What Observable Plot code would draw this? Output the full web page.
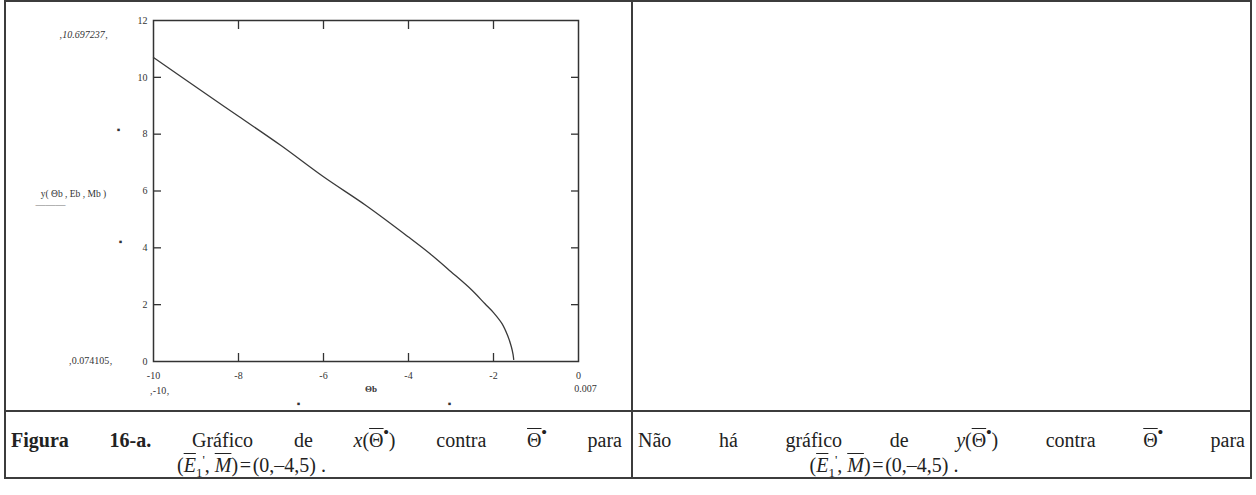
<!DOCTYPE html>
<html>
<head>
<meta charset="utf-8">
<script src="https://cdn.jsdelivr.net/npm/d3@7"></script>
<script src="https://cdn.jsdelivr.net/npm/@observablehq/plot@0.6"></script>
<style>
  html, body { margin: 0; padding: 0; background: #fff; }
  #page { position: relative; width: 1256px; height: 495px; background: #fff; overflow: hidden; }
  .rule { position: absolute; background: #3c3c3c; }
  #chart { position: absolute; left: 0; top: 0; }
  .cap {
    position: absolute; font-family: "Liberation Serif", "Times New Roman", serif;
    font-size: 20px; color: #222; line-height: 25px;
  }
  .just { white-space: nowrap; display: flex; justify-content: space-between; }
  .center { text-align: center; white-space: nowrap; }
  .ov { text-decoration: overline; text-decoration-thickness: 1px; }
  sup, sub { line-height: 0; font-size: 65%; }
  sup.dot { font-weight: bold; font-size: 75%; position: relative; top: -2px; }
</style>
</head>
<body>
<div id="page">
  <div id="chart"></div>
  <!-- table rules -->
  <div class="rule" style="left:4px; top:0; width:1248px; height:2px"></div>
  <div class="rule" style="left:4px; top:0; width:2px; height:479px"></div>
  <div class="rule" style="left:1250px; top:0; width:2px; height:479px"></div>
  <div class="rule" style="left:631px; top:0; width:2px; height:479px"></div>
  <div class="rule" style="left:4px; top:410px; width:1248px; height:2px"></div>
  <div class="rule" style="left:4px; top:477px; width:1248px; height:2px"></div>

  <!-- left caption -->
  <div class="cap" style="left:11px; top:428px; width:611px">
    <div class="just"><span><b>Figura</b></span><span><b>16-a.</b></span><span>Gráfico</span><span>de</span><span><i>x</i>(<span class="ov">Θ</span><sup class="dot">•</sup>)</span><span>contra</span><span><span class="ov">Θ</span><sup class="dot">•</sup></span><span>para</span></div>
    <div class="center" style="margin-left:-130px">(<span class="ov"><i>E</i></span><sub>1</sub><sup>'</sup>, <span class="ov"><i>M</i></span>)&#8202;=&#8202;(0,–4,5) .</div>
  </div>
  <!-- right caption -->
  <div class="cap" style="left:638px; top:428px; width:607px">
    <div class="just"><span>Não</span><span>há</span><span>gráfico</span><span>de</span><span><i>y</i>(<span class="ov">Θ</span><sup class="dot">•</sup>)</span><span>contra</span><span><span class="ov">Θ</span><sup class="dot">•</sup></span><span>para</span></div>
    <div class="center" style="margin-left:-115px">(<span class="ov"><i>E</i></span><sub>1</sub><sup>'</sup>, <span class="ov"><i>M</i></span>)&#8202;=&#8202;(0,–4,5) .</div>
  </div>
</div>
<script>
// Θb values and the resulting y(Θb, Eb, Mb) curve
const thetaB = [-10, -9, -8, -7, -6, -5, -4, -3.5, -3, -2.5, -2.2, -2, -1.8, -1.67, -1.58, -1.54, -1.525];
const yValues = [10.697237, 9.66, 8.63, 7.60, 6.50, 5.49, 4.38, 3.80, 3.16, 2.50, 2.03, 1.72, 1.33, 0.92, 0.52, 0.25, 0.074105];

// axis ticks and range labels
const xTickLabels = [-10, -8, -6, -4, -2, 0];
const xInnerTicks = [-8, -6, -4, -2];
const yTickLabels = [0, 2, 4, 6, 8, 10, 12];
const yInnerTicks = [2, 4, 6, 8, 10];
const yUpperLimit = "\u201a10.697237\u201a";
const yLowerLimit = "\u201a0.074105\u201a";
const xLowerLimit = "\u201a-10\u201a";
const xUpperLimit = "0.007";
const xLabel = "Θb";
const yLabel = "y( Θb , Eb , Mb )";

const points = thetaB.map((t, i) => ({t, v: yValues[i]}));
const fmt = d => (d < 0 ? "-" + (-d) : String(d));
const ink = "#333";

const chart = Plot.plot({
  width: 632,
  height: 410,
  marginLeft: 153,
  marginTop: 20,
  marginRight: 54,
  marginBottom: 49,
  style: {fontFamily: "Liberation Serif, serif", fontSize: "10px", color: ink, background: "transparent"},
  x: {domain: [-10, 0]},
  y: {domain: [0, 12]},
  marks: [
    Plot.frame({stroke: ink, strokeWidth: 1.5}),
    // inward tick marks on all four sides
    Plot.axisX(xInnerTicks, {anchor: "bottom", tickSize: 8, dy: -8, text: null, label: null, stroke: ink, strokeWidth: 1.3}),
    Plot.axisX(xInnerTicks, {anchor: "top", tickSize: 8, dy: 8, text: null, label: null, stroke: ink, strokeWidth: 1.3}),
    Plot.axisY(yInnerTicks, {anchor: "left", tickSize: 8, dx: 8, text: null, label: null, stroke: ink, strokeWidth: 1.3}),
    Plot.axisY(yInnerTicks, {anchor: "right", tickSize: 8, dx: -8, text: null, label: null, stroke: ink, strokeWidth: 1.3}),
    // tick labels
    Plot.axisX(xTickLabels, {anchor: "bottom", tickSize: 0, tickPadding: 10, label: null, tickFormat: fmt, fill: ink}),
    Plot.axisY(yTickLabels, {anchor: "left", tickSize: 0, tickPadding: 6, label: null, tickFormat: fmt, fill: ink}),
    // the curve
    Plot.line(points, {x: "t", y: "v", curve: "catmull-rom", stroke: "#3a3a3a", strokeWidth: 1.3}),
    // range limits and axis names
    Plot.text([yUpperLimit], {frameAnchor: "top-left", textAnchor: "middle", dx: -70, dy: 10, text: d => d, fill: ink, fontStyle: "italic"}),
    Plot.text([yLowerLimit], {frameAnchor: "bottom-left", textAnchor: "middle", dx: -63, dy: 2, text: d => d, fill: ink}),
    Plot.text([xLowerLimit], {frameAnchor: "bottom-left", textAnchor: "middle", dx: 6, dy: 32, text: d => d, fill: ink}),
    Plot.text([xUpperLimit], {frameAnchor: "bottom-right", textAnchor: "middle", dx: 7, dy: 30, text: d => d, fill: ink}),
    Plot.text([xLabel], {frameAnchor: "bottom", textAnchor: "middle", dx: 5, dy: 30, text: d => d, fill: ink, fontWeight: "bold", fontSize: 9}),
    Plot.text([yLabel], {frameAnchor: "left", textAnchor: "middle", dx: -80, dy: 3, text: d => d, fill: ink, fontSize: 9.5}),
    Plot.text(["\u2014\u2014\u2014"], {frameAnchor: "left", textAnchor: "start", dx: -118, dy: 14, text: d => d, fill: "#777", fontSize: 10}),
    // placeholder markers
    Plot.text(["\u25aa"], {frameAnchor: "top-left", textAnchor: "middle", dx: -35, dy: 105, text: d => d, fill: ink, fontSize: 10}),
    Plot.text(["\u25aa"], {frameAnchor: "top-left", textAnchor: "middle", dx: -33, dy: 217, text: d => d, fill: ink, fontSize: 10}),
    Plot.text(["\u25aa"], {frameAnchor: "bottom-left", textAnchor: "middle", dx: 145, dy: 45, text: d => d, fill: ink, fontSize: 10}),
    Plot.text(["\u25aa"], {frameAnchor: "bottom-left", textAnchor: "middle", dx: 296, dy: 45, text: d => d, fill: ink, fontSize: 10})
  ]
});
document.getElementById("chart").appendChild(chart);
</script>
</body>
</html>
